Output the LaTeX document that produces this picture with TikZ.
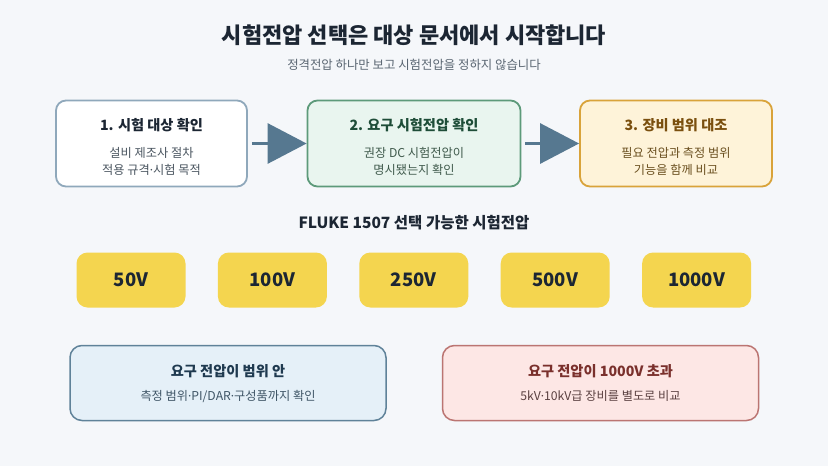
\documentclass[tikz,border=0pt]{standalone}
\usepackage{fontspec}
\setmainfont{Noto Sans CJK KR}
\newfontfamily\dotfont{Noto Sans}
\newcommand{\sepdot}{{\dotfont ·}}
\usetikzlibrary{arrows.meta,positioning}

\definecolor{pagebg}{HTML}{F5F7FA}
\definecolor{titlec}{HTML}{1C2633}
\definecolor{subc}{HTML}{5A6672}
\definecolor{arrowc}{HTML}{567890}
\definecolor{onedraw}{HTML}{8FA8BB}
\definecolor{onetext}{HTML}{4A5560}
\definecolor{twofill}{HTML}{E9F5EF}
\definecolor{twodraw}{HTML}{5D9A7A}
\definecolor{twotitle}{HTML}{1E4D38}
\definecolor{twotext}{HTML}{3F5A4C}
\definecolor{threefill}{HTML}{FEF3D9}
\definecolor{threedraw}{HTML}{D9A33A}
\definecolor{threetitle}{HTML}{7A4F0E}
\definecolor{threetext}{HTML}{6B5020}
\definecolor{voltc}{HTML}{F4D54F}
\definecolor{infill}{HTML}{E5F0F8}
\definecolor{indraw}{HTML}{5F8299}
\definecolor{intitle}{HTML}{1F3A50}
\definecolor{intext}{HTML}{3F5566}
\definecolor{overfill}{HTML}{FDE7E5}
\definecolor{overdraw}{HTML}{BB7572}
\definecolor{overtitle}{HTML}{7A302C}
\definecolor{overtext}{HTML}{5A4040}

\begin{document}
\begin{tikzpicture}[x=1pt, y=-1pt, node distance=32pt,
    stepbox/.style={draw, rounded corners=10pt, line width=1.8pt, minimum height=86pt},
    voltbox/.style={fill=voltc, rounded corners=11pt, minimum width=109pt, minimum height=55pt, text=titlec, font=\fontsize{18.5}{20}\selectfont\bfseries},
    notebox/.style={draw, rounded corners=12pt, line width=1.5pt, minimum width=316pt, minimum height=75pt},
    boxtitle/.style={anchor=base, font=\fontsize{14.2}{16}\selectfont\bfseries},
    boxnote/.style={anchor=base, font=\fontsize{12.2}{14}\selectfont},
    flow/.style={draw=arrowc, line width=3pt, -{Triangle[length=39pt,width=40pt]}, shorten <=4pt}]
    \useasboundingbox[fill=pagebg] (0,0) rectangle (828,466);

    % heading
    \node[anchor=base, text=titlec, font=\fontsize{22}{24}\selectfont\bfseries] (head) at (414,43) {시험전압 선택은 대상 문서에서 시작합니다};
    \node[anchor=base, text=subc, font=\fontsize{12.4}{14}\selectfont] (subhead) at (414,69) {정격전압 하나만 보고 시험전압을 정하지 않습니다};

    % three steps
    \node[stepbox, draw=onedraw, fill=white, minimum width=191pt] (b1) at (151.5,143.5) {};
    \node[stepbox, draw=twodraw, fill=twofill, minimum width=213pt] (b2) at (414,143.5) {};
    \node[stepbox, draw=threedraw, fill=threefill, minimum width=192pt] (b3) at (676,143.5) {};
    \draw[flow] (b1) -- (b2);
    \draw[flow] (b2) -- (b3);

    \node[boxtitle, text=titlec] (t1) at (151.5,130) {1. 시험 대상 확인};
    \node[boxnote, text=onetext] (n1a) at (151.5,157) {설비 제조사 절차};
    \node[boxnote, text=onetext] (n1b) at (151.5,174) {적용 규격\sepdot 시험 목적};
    \node[boxtitle, text=twotitle] (t2) at (414,130) {2. 요구 시험전압 확인};
    \node[boxnote, text=twotext] (n2a) at (414,157) {권장 DC 시험전압이};
    \node[boxnote, text=twotext] (n2b) at (414,174) {명시됐는지 확인};
    \node[boxtitle, text=threetitle] (t3) at (676,130) {3. 장비 범위 대조};
    \node[boxnote, text=threetext] (n3a) at (676,157) {필요 전압과 측정 범위};
    \node[boxnote, text=threetext] (n3b) at (676,174) {기능을 함께 비교};

    % voltages
    \node[anchor=base, text=titlec, font=\fontsize{15.5}{17}\selectfont\bfseries] (range) at (414,228) {FLUKE 1507 선택 가능한 시험전압};
    \node[voltbox] (v50) at (131,280) {50V};
    \node[voltbox, right=of v50] (v100) {100V};
    \node[voltbox, right=of v100] (v250) {250V};
    \node[voltbox, right=of v250] (v500) {500V};
    \node[voltbox, right=of v500] (v1000) {1000V};

    % outcomes
    \node[notebox, draw=indraw, fill=infill] (inside) at (228,383) {};
    \node[boxtitle, text=intitle] (inhead) at (228,376) {요구 전압이 범위 안};
    \node[boxnote, text=intext] (innote) at (228,400) {측정 범위\sepdot PI/DAR\sepdot 구성품까지 확인};
    \node[notebox, draw=overdraw, fill=overfill] (over) at (600.5,383) {};
    \node[boxtitle, text=overtitle] (overhead) at (600.5,376) {요구 전압이 1000V 초과};
    \node[boxnote, text=overtext] (overnote) at (600.5,400) {5kV\sepdot 10kV급 장비를 별도로 비교};
\end{tikzpicture}
\end{document}
